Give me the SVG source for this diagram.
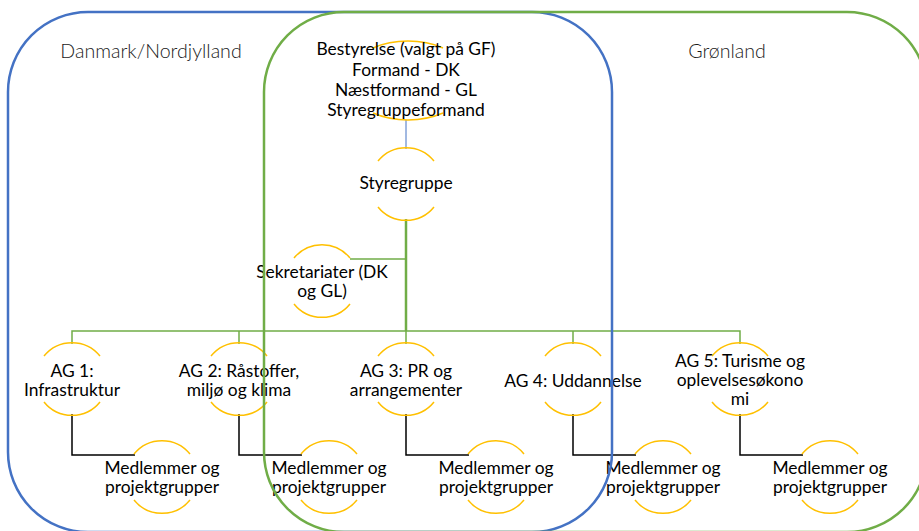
<svg xmlns="http://www.w3.org/2000/svg" width="919" height="531" viewBox="0 0 919 531">
<style>
.t{font-family:Lato,"Liberation Sans",sans-serif;font-size:17.4px;fill:#000;text-anchor:middle}
.lbl{font-family:Lato,"Liberation Sans",sans-serif;font-size:19.6px;font-weight:300;fill:#1a1a1a;text-anchor:middle}
.arc{fill:none;stroke:#FFC000;stroke-width:1.5}
.g{fill:none;stroke:#70AD47;stroke-width:1.5}
.k{fill:none;stroke:#000;stroke-width:1.5}
</style>
<defs>
<path id="c" class="arc" d="M-28,-23 A36,36 0 0 1 28,-23 M-28,23 A36,36 0 0 0 28,23"/>
</defs>
<rect width="919" height="531" fill="#fff"/>
<g id="connectors">
<line x1="406" y1="120" x2="406" y2="149" stroke="#4472C4" stroke-width="1"/>
<line x1="406" y1="219" x2="406" y2="331" stroke="#70AD47" stroke-width="2.5"/>
<polyline class="g" points="350,259 406,259"/>
<polyline class="g" points="72,344 72,331 740,331 740,344"/>
<line class="g" x1="239" y1="331" x2="239" y2="344"/>
<line class="g" x1="406" y1="331" x2="406" y2="344"/>
<line class="g" x1="573" y1="331" x2="573" y2="344"/>
<polyline class="k" points="72,414 72,455 135,455"/>
<polyline class="k" points="239,414 239,455 302,455"/>
<polyline class="k" points="406,414 406,455 469,455"/>
<polyline class="k" points="573,414 573,455 636,455"/>
<polyline class="k" points="740,414 740,455 803,455"/>
</g>
<g id="bestyrelse">
<path class="arc" d="M373,48 A62,39.5 0 0 1 443,48 M373,113 A62,39.5 0 0 0 443,113"/>
<text class="t" x="406" y="55">Bestyrelse (valgt på GF)</text>
<text class="t" x="406" y="75.5">Formand - DK</text>
<text class="t" x="406" y="96">Næstformand - GL</text>
<text class="t" x="406" y="116">Styregruppeformand</text>
</g>
<g id="styregruppe">
<use href="#c" x="406" y="184"/>
<text class="t" x="406" y="189">Styregruppe</text>
</g>
<g id="sekretariater">
<use href="#c" x="322" y="281"/>
<text class="t" x="322" y="278">Sekretariater (DK</text>
<text class="t" x="322" y="297">og GL)</text>
</g>
<g id="ag1">
<use href="#c" x="72" y="379"/>
<text class="t" x="72" y="376.5">AG 1:</text>
<text class="t" x="72" y="395.5">Infrastruktur</text>
</g>
<g id="ag2">
<use href="#c" x="239" y="379"/>
<text class="t" x="239" y="376.5">AG 2: Råstoffer,</text>
<text class="t" x="239" y="395.5">miljø og klima</text>
</g>
<g id="ag3">
<use href="#c" x="406" y="379"/>
<text class="t" x="406" y="376.5">AG 3: PR og</text>
<text class="t" x="406" y="395.5">arrangementer</text>
</g>
<g id="ag4">
<use href="#c" x="573" y="379"/>
<text class="t" x="573" y="387">AG 4: Uddannelse</text>
</g>
<g id="ag5">
<use href="#c" x="740" y="379"/>
<text class="t" x="740" y="366.5">AG 5: Turisme og</text>
<text class="t" x="740" y="385.5">oplevelsesøkono</text>
<text class="t" x="740" y="404.5">mi</text>
</g>
<g id="m1">
<use href="#c" x="162" y="477"/>
<text class="t" x="162" y="474">Medlemmer og</text>
<text class="t" x="162" y="493">projektgrupper</text>
</g>
<g id="m2">
<use href="#c" x="329" y="477"/>
<text class="t" x="329" y="474">Medlemmer og</text>
<text class="t" x="329" y="493">projektgrupper</text>
</g>
<g id="m3">
<use href="#c" x="496" y="477"/>
<text class="t" x="496" y="474">Medlemmer og</text>
<text class="t" x="496" y="493">projektgrupper</text>
</g>
<g id="m4">
<use href="#c" x="663" y="477"/>
<text class="t" x="663" y="474">Medlemmer og</text>
<text class="t" x="663" y="493">projektgrupper</text>
</g>
<g id="m5">
<use href="#c" x="830" y="477"/>
<text class="t" x="830" y="474">Medlemmer og</text>
<text class="t" x="830" y="493">projektgrupper</text>
</g>
<g id="danmark">
<rect x="8" y="12" width="604" height="520" rx="80" ry="80" fill="none" stroke="#4472C4" stroke-width="2.5"/>
<text class="lbl" x="151" y="58">Danmark/Nordjylland</text>
</g>
<g id="gronland">
<rect x="264" y="12" width="663" height="520" rx="80" ry="80" fill="none" stroke="#70AD47" stroke-width="2.5"/>
<text class="lbl" x="727" y="58">Grønland</text>
</g>
</svg>
